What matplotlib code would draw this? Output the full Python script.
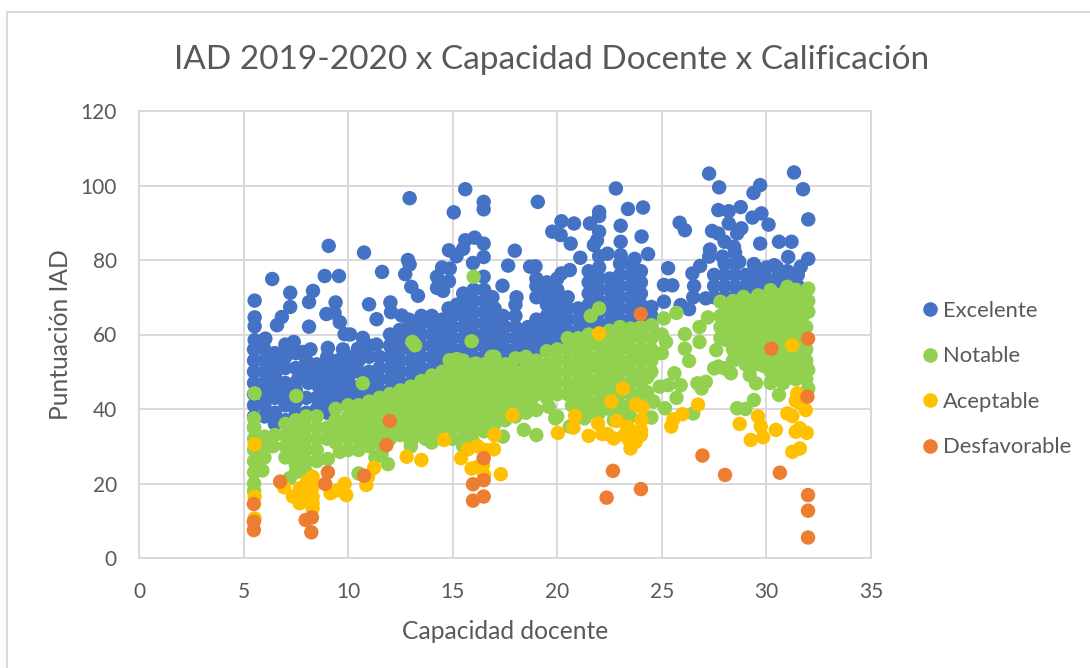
import matplotlib
matplotlib.use("Agg")
import matplotlib.pyplot as plt
from matplotlib.lines import Line2D

series_names = ["Excelente", "Notable", "Aceptable", "Desfavorable"]
series_colors = ["#4472C4", "#92D050", "#FFC000", "#ED7D31"]

# (capacidad, puntuacion), outliers first then the dense part
excelente = [
    (5.53, 69.1), (5.53, 64.6), (5.53, 62.2), (6.37, 74.9), (7.23, 71.2), (7.23, 67.4), (8.13, 68.7), (8.32, 71.7),
    (6.6, 62.5), (6.83, 64.7), (8.13, 62.1), (8.88, 75.7), (9.56, 75.7), (9.07, 83.8), (9.4, 68.6), (8.96, 65.5),
    (9.35, 65.8), (9.6, 63.3), (9.83, 60.1), (10.1, 60.0), (10.76, 82.0), (11.62, 76.8), (11.0, 68.1), (11.36, 64.1),
    (12.02, 68.6), (12.05, 66.0), (12.56, 65.1), (12.46, 61.2), (6.04, 58.9), (5.53, 58.5), (7.0, 57.3), (7.4, 58.0),
    (8.2, 56.0), (7.84, 55.3), (9.03, 56.4), (9.75, 56.0), (10.7, 59.1), (11.35, 57.3), (10.47, 56.2), (12.94, 96.6),
    (15.6, 99.0), (16.48, 95.6), (16.48, 93.6), (15.05, 92.8), (15.6, 85.3), (16.05, 86.0), (16.48, 84.4),
    (14.82, 82.6), (15.5, 83.0), (15.18, 81.0), (16.48, 80.8), (15.97, 79.2), (17.97, 82.5), (17.65, 78.5),
    (12.86, 80.0), (12.94, 78.8), (12.73, 76.2), (14.49, 78.0), (14.86, 77.7), (14.25, 75.5), (14.82, 74.3),
    (14.25, 72.5), (14.54, 71.7), (13.02, 72.8), (13.34, 70.4), (16.48, 75.5), (17.38, 73.1), (18.05, 70.0),
    (18.7, 78.2), (19.07, 95.6), (20.2, 90.4), (20.8, 89.8), (19.76, 87.6), (20.16, 86.7), (20.64, 84.4),
    (22.8, 99.2), (23.38, 93.7), (24.1, 94.1), (22.0, 92.9), (22.0, 91.8), (21.56, 89.8), (23.03, 89.2),
    (22.0, 87.6), (24.03, 86.3), (23.03, 84.9), (21.9, 85.3), (21.75, 84.0), (24.34, 81.6), (23.7, 80.3),
    (21.1, 80.6), (22.4, 81.7), (23.03, 81.3), (25.3, 77.8), (25.1, 73.3), (25.5, 73.2), (18.96, 78.3),
    (20.6, 77.3), (20.2, 76.4), (27.26, 103.2), (31.32, 103.5), (27.74, 99.5), (29.7, 100.1), (29.38, 98.0),
    (31.75, 99.0), (27.7, 93.4), (28.2, 93.1), (28.77, 94.2), (29.33, 91.4), (29.76, 92.5), (30.1, 89.5),
    (32.0, 90.9), (25.85, 90.0), (26.1, 88.0), (27.4, 87.8), (27.7, 87.1), (28.2, 89.8), (28.8, 88.5),
    (28.6, 87.1), (28.0, 84.9), (29.7, 84.4), (30.6, 84.9), (31.2, 84.9), (28.45, 83.5), (27.3, 82.8),
    (31.04, 80.8), (32.0, 80.3), (27.26, 80.9), (27.9, 80.9), (28.7, 79.5), (26.83, 78.4), (26.46, 76.4),
    (26.54, 73.0), (29.4, 78.9), (30.37, 78.6), (31.64, 78.2), (31.16, 76.4), (24.5, 67.4), (25.1, 68.8),
    (25.9, 67.9), (26.3, 66.8), (26.5, 70.0), (27.1, 69.7),
    (5.5, 35), (5.5, 38), (5.5, 41), (5.5, 44), (5.5, 47), (5.5, 50), (5.5, 53), (5.5, 56),
    (6.0, 38), (6.0, 41), (6.0, 44), (6.0, 47), (6.0, 50), (6.0, 53), (6.0, 56),
    (6.5, 36), (6.5, 39), (6.5, 43), (6.5, 46), (6.5, 49), (6.5, 52), (6.5, 55),
    (7.0, 37), (7.0, 41), (7.0, 44), (7.0, 47), (7.0, 51), (7.0, 54),
    (7.5, 39), (7.5, 42), (7.5, 45), (7.6, 48), (7.5, 51), (7.5, 55),
    (8.0, 39), (8.0, 43), (8.1, 47), (8.0, 50), (8.0, 53),
    (8.5, 40), (8.5, 43), (8.6, 46), (8.5, 49), (8.5, 52),
    (9.0, 39), (9.0, 42), (9.0, 45), (9.0, 48), (9.0, 51), (9.0, 54),
    (9.5, 41), (9.5, 44), (9.5, 47), (9.5, 50), (9.5, 53),
    (10.0, 42), (10.0, 45), (10.0, 48), (10.0, 51), (10.0, 54),
    (10.5, 43), (10.5, 46), (10.5, 50), (10.5, 53),
    (11.0, 44), (11.0, 47), (11.0, 50), (11.0, 54), (11.0, 57),
    (11.5, 45), (11.5, 48), (11.5, 51), (11.5, 54),
    (12.0, 45), (12.0, 48), (12.0, 51), (12.0, 54), (12.0, 57), (12.0, 60),
    (12.5, 47), (12.5, 50), (12.5, 53), (12.5, 56), (12.5, 59), (12.9, 64),
    (13.0, 47), (13.0, 50), (13.0, 53), (13.0, 56), (13.0, 59), (13.0, 62),
    (13.5, 48), (13.5, 51), (13.5, 54), (13.5, 57), (13.5, 60), (13.5, 63), (13.5, 65),
    (14.0, 48), (14.0, 51), (14.0, 54), (14.0, 57), (14.0, 60), (14.0, 63), (14.0, 65),
    (14.5, 49), (14.5, 52), (14.5, 55), (14.5, 58), (14.5, 61), (14.5, 64), (14.8, 67),
    (15.0, 50), (15.0, 53), (15.0, 56), (15.0, 59), (15.0, 62), (15.0, 65), (15.2, 68),
    (15.5, 50), (15.5, 53), (15.5, 56), (15.5, 59), (15.5, 62), (15.5, 65), (15.5, 68), (15.5, 71),
    (16.0, 51), (16.0, 54), (16.0, 57), (16.0, 60), (16.0, 63), (16.0, 66), (16.0, 69), (16.0, 72),
    (16.5, 51), (16.5, 54), (16.5, 57), (16.5, 60), (16.5, 63), (16.5, 66), (16.5, 69), (16.5, 72),
    (17.0, 52), (17.0, 55), (17.0, 58), (17.0, 61), (17.0, 64), (17.0, 67), (16.9, 70),
    (17.5, 53), (17.5, 56), (17.5, 59), (17.5, 62), (17.4, 65),
    (18.0, 53), (18.0, 56), (18.0, 59), (18.0, 62), (18.0, 65), (18.0, 68),
    (18.5, 54), (18.5, 57), (18.5, 60), (18.6, 62),
    (19.0, 55), (19.0, 58), (19.0, 61), (19.0, 64), (19.0, 70), (19.0, 73), (19.0, 75),
    (19.5, 56), (19.5, 59), (19.5, 62), (19.5, 65), (19.5, 68), (19.5, 71), (19.5, 74),
    (20.0, 57), (20.0, 60), (20.0, 63), (20.0, 66), (20.0, 69), (20.0, 72), (20.0, 75),
    (20.5, 58), (20.5, 61), (20.5, 64), (20.5, 67), (20.5, 70),
    (21.0, 58), (21.0, 61), (21.0, 64), (21.0, 67),
    (21.5, 59), (21.5, 62), (21.5, 65), (21.5, 68), (21.5, 71), (21.5, 74), (21.5, 77),
    (22.0, 60), (22.0, 63), (22.0, 66), (22.0, 69), (22.0, 72), (22.0, 75), (22.0, 78), (22.0, 81),
    (22.5, 60), (22.5, 63), (22.5, 66), (22.5, 69), (22.5, 72), (22.5, 75),
    (23.0, 61), (23.0, 64), (23.0, 67), (23.0, 70), (23.0, 73), (23.0, 76), (23.0, 79),
    (23.5, 61), (23.5, 64), (23.5, 67), (23.5, 70), (23.5, 73), (23.5, 76), (23.5, 79),
    (24.0, 62), (24.0, 65), (24.0, 68), (24.0, 71), (24.0, 74), (24.0, 77),
    (24.5, 62), (24.5, 65),
    (27.5, 70), (27.5, 73), (27.5, 76), (28.0, 70), (28.0, 73), (28.0, 76), (28.0, 79),
    (28.5, 70), (28.5, 73), (28.5, 76), (28.5, 79), (28.5, 82), (29.0, 70), (29.0, 73), (29.0, 76),
    (29.5, 71), (29.5, 74), (29.5, 77), (30.0, 72), (30.0, 75), (30.0, 78), (30.5, 72), (30.5, 75), (30.5, 78),
    (31.0, 72), (31.0, 75), (31.0, 77), (31.5, 73), (31.5, 76),
]

notable = [
    (5.53, 44.2), (7.52, 43.5), (10.7, 46.9), (13.07, 58.0), (13.2, 57.1), (15.9, 58.2), (16.0, 75.5),
    (14.85, 53.1), (15.2, 53.4), (16.1, 52.2), (16.85, 54.0), (18.0, 53.6), (18.5, 54.0), (21.6, 65.0),
    (22.0, 67.0), (23.0, 62.0), (23.5, 61.6), (24.5, 62.5), (25.1, 64.3), (25.7, 65.8), (25.2, 58.0),
    (26.1, 60.1), (26.8, 62.0), (27.2, 64.6), (26.1, 56.2), (26.8, 58.0), (27.6, 55.8), (28.1, 58.5),
    (25.6, 49.6), (25.9, 46.4), (24.9, 46.0), (25.3, 46.4), (25.7, 43.0), (26.7, 46.9), (27.1, 47.3),
    (26.9, 45.5), (26.5, 38.8), (26.3, 52.9), (27.5, 50.9), (27.7, 51.4), (28.0, 50.9), (28.3, 49.6),
    (29.2, 49.1), (29.5, 46.9), (29.4, 42.4), (28.6, 40.2), (29.0, 40.0), (30.6, 43.8), (32.0, 45.5),
    (32.0, 50.5), (24.6, 42.0), (24.5, 37.7), (25.15, 40.2), (19.0, 33.0), (19.0, 39.7), (19.6, 40.6),
    (19.9, 37.5), (19.3, 50.5), (20.6, 35.3), (21.3, 37.5), (22.7, 37.0),
    (9.03, 26.6), (9.6, 28.5), (11.9, 25.2), (10.5, 22.7), (7.2, 21.4), (17.4, 32.6), (18.4, 34.4),
    (5.5, 37.5), (5.5, 35), (5.5, 32), (5.5, 29), (5.5, 26), (5.5, 23), (5.5, 20), (5.5, 18),
    (6.0, 32.6), (6.0, 30), (6.0, 27), (5.9, 23.5), (6.5, 33), (6.4, 30),
    (7.0, 36), (7.0, 33), (7.0, 30), (7.0, 27),
    (7.5, 37), (7.5, 34), (7.5, 31), (7.5, 28), (7.5, 25), (7.5, 23),
    (8.0, 38), (8.0, 35), (8.0, 32), (8.0, 29), (8.0, 26), (8.0, 23),
    (8.5, 38), (8.5, 35), (8.5, 32), (8.5, 29), (8.5, 26), (9.0, 35), (9.0, 32),
    (9.4, 40), (9.4, 37), (9.4, 34), (9.4, 31),
    (10.0, 41), (10.0, 38), (10.0, 35), (10.0, 32), (10.0, 29),
    (10.5, 41), (10.5, 38), (10.5, 35), (10.5, 32), (10.5, 29),
    (11.0, 42), (11.0, 39), (11.0, 36), (11.0, 33), (11.0, 30), (11.3, 27),
    (11.5, 43), (11.5, 40), (11.5, 37), (11.5, 34), (11.5, 31), (11.6, 28),
    (12.0, 44), (12.0, 41), (12.0, 38), (12.0, 35), (12.0, 32),
    (12.5, 45), (12.5, 42), (12.5, 39), (12.5, 36), (12.5, 33), (13.0, 30),
    (13.0, 46), (13.0, 43), (13.0, 40), (13.0, 37), (13.0, 34), (13.0, 31),
    (13.5, 47.5), (13.5, 44), (13.5, 41), (13.5, 38), (13.5, 35), (13.7, 32),
    (14.0, 49), (14.0, 46), (14.0, 43), (14.0, 40), (14.0, 37), (14.0, 34), (14.0, 31),
    (14.5, 50), (14.5, 47), (14.5, 44), (14.5, 41), (14.5, 38), (14.5, 35), (14.5, 32),
    (15.0, 53), (15.0, 50), (15.0, 47), (15.0, 44), (15.0, 41), (15.0, 38), (15.0, 35), (15.0, 32),
    (15.5, 53), (15.5, 50), (15.5, 47), (15.5, 44), (15.5, 41), (15.5, 38), (15.5, 35), (15.5, 32), (15.5, 30),
    (16.0, 52), (16.0, 49), (16.0, 46), (16.0, 43), (16.0, 40), (16.0, 37), (16.0, 34), (16.0, 31),
    (16.5, 52), (16.5, 49), (16.5, 46), (16.5, 43), (16.5, 40), (16.5, 37), (16.5, 34),
    (17.0, 54), (17.0, 51), (17.0, 48), (17.0, 45), (17.0, 42), (17.0, 39), (17.0, 36), (17.0, 33),
    (17.5, 52), (17.5, 49), (17.5, 46), (17.5, 43), (17.5, 40), (17.5, 37),
    (18.0, 50), (18.0, 47), (18.0, 44), (18.0, 41), (18.0, 38),
    (18.5, 51), (18.5, 48), (18.5, 45), (18.5, 42), (18.5, 39),
    (19.0, 53), (19.0, 47), (19.0, 44), (19.5, 55.5), (19.5, 52), (19.5, 49), (19.5, 46), (19.5, 43),
    (20.0, 56), (20.0, 53), (20.0, 50), (20.0, 47), (20.0, 44), (20.0, 38),
    (20.5, 59), (20.5, 56), (20.5, 53), (20.5, 50), (20.5, 47), (20.5, 44), (20.7, 41),
    (21.0, 59), (21.0, 56), (21.0, 53), (21.0, 50), (21.0, 47), (21.0, 44), (21.0, 41), (21.0, 38),
    (21.5, 60), (21.5, 57), (21.5, 54), (21.5, 51), (21.5, 48), (21.5, 45), (21.5, 42), (21.5, 39),
    (22.0, 60), (22.0, 57), (22.0, 54), (22.0, 51), (22.0, 48), (22.0, 45), (22.0, 42), (22.0, 39),
    (22.5, 61), (22.5, 58), (22.5, 55), (22.5, 52), (22.5, 49), (22.5, 46), (22.5, 43), (22.5, 40),
    (23.0, 59), (23.0, 56), (23.0, 53), (23.0, 50), (23.0, 47), (23.0, 44), (23.0, 41), (23.0, 38),
    (23.5, 59), (23.5, 56), (23.5, 53), (23.5, 50), (23.5, 47), (23.5, 44), (23.5, 41), (23.5, 38),
    (24.0, 62), (24.0, 59), (24.0, 56), (24.0, 53), (24.0, 50), (24.0, 47), (24.0, 44), (24.0, 41),
    (24.5, 59), (24.5, 56), (24.5, 53), (24.5, 50), (25.0, 60), (25.0, 55),
    (20.8, 57.5), (20.8, 51.5), (20.8, 45.5), (21.3, 54.5), (21.3, 48.5), (21.3, 42.5), (21.8, 58.5), (21.8, 52.5),
    (21.8, 46.5), (21.8, 40.5), (22.3, 55.5), (22.3, 49.5), (22.3, 43.5), (22.8, 59.5), (22.8, 53.5), (22.8, 47.5),
    (22.8, 41.5), (23.3, 57.5), (23.3, 51.5), (23.3, 45.5), (23.3, 39.5), (23.8, 60.5), (23.8, 54.5), (23.8, 48.5),
    (23.8, 42.5), (24.3, 60.5), (24.3, 54.5), (24.3, 48.5), (24.3, 44.5),
    (9.7, 36), (9.7, 33), (10.3, 39.5), (10.3, 36.5), (10.3, 33.5), (10.8, 37.5), (10.8, 34.5), (11.3, 38), (11.3, 35),
    (11.3, 32), (11.8, 41), (11.8, 38), (11.8, 35), (12.3, 39.5), (12.3, 36.5), (12.3, 33.5), (12.8, 43.5), (12.8, 40.5),
    (12.8, 37.5), (13.3, 42), (13.3, 39), (13.3, 36), (13.3, 33), (13.8, 45), (13.8, 42), (13.8, 39), (13.8, 36),
    (14.3, 47.5), (14.3, 44.5), (14.3, 41.5), (14.3, 38.5), (14.3, 35.5), (14.8, 48.5), (14.8, 45.5), (14.8, 42.5),
    (14.8, 39.5), (14.8, 36.5), (15.3, 51.5), (15.3, 48.5), (15.3, 45.5), (15.3, 42.5), (15.3, 39.5), (15.3, 36.5),
    (15.8, 50.5), (15.8, 47.5), (15.8, 44.5), (15.8, 41.5), (15.8, 38.5), (15.8, 35.5), (16.3, 50.5), (16.3, 47.5),
    (16.3, 44.5), (16.3, 41.5), (16.3, 38.5), (16.3, 35.5), (16.8, 50.5), (16.8, 47.5), (16.8, 44.5), (16.8, 41.5),
    (16.8, 38.5), (17.3, 49.5), (17.3, 46.5), (17.3, 43.5), (17.3, 40.5), (17.8, 51), (17.8, 48), (17.8, 45), (17.8, 42),
    (18.3, 49.5), (18.3, 46.5), (18.3, 43.5), (18.8, 52), (18.8, 49), (18.8, 46), (18.8, 43), (19.8, 50), (19.8, 47),
    (27.8, 68.8), (27.8, 65), (27.8, 62), (27.8, 59), (28.9, 70.1), (28.4, 69),
    (28.4, 66), (28.4, 63), (28.4, 60), (28.4, 56), (28.4, 53),
    (29.0, 67), (29.0, 64), (29.0, 61), (29.0, 58), (29.0, 55), (29.0, 52),
    (29.6, 70.5), (29.6, 67), (29.6, 64), (29.6, 61), (29.6, 58), (29.6, 55), (29.6, 52),
    (30.2, 71.9), (30.2, 68), (30.2, 65), (30.2, 62), (30.2, 59), (30.2, 56), (30.2, 53), (30.2, 50), (30.2, 47),
    (30.8, 71), (30.8, 68), (30.8, 65), (30.8, 62), (30.8, 59), (30.8, 56), (30.8, 53), (30.8, 50), (30.8, 47),
    (31.0, 72.8), (31.4, 72), (31.4, 69), (31.4, 66), (31.4, 63), (31.4, 60), (31.4, 57), (31.4, 54), (31.4, 51), (31.4, 48),
    (32.0, 72.3), (32.0, 69), (32.0, 66.1), (31.9, 62), (31.9, 59), (31.9, 56), (31.9, 53), (31.9, 48),
    (28.1, 67.5), (28.1, 64.5), (28.1, 61.5), (28.7, 68.5), (28.7, 65.5), (28.7, 62.5), (28.7, 59.5), (28.7, 56.5),
    (28.7, 53.5), (29.3, 69), (29.3, 65.5), (29.3, 62.5), (29.3, 59.5), (29.3, 56.5), (29.3, 53.5), (29.9, 69.5),
    (29.9, 66.5), (29.9, 63.5), (29.9, 60.5), (29.9, 57.5), (29.9, 54.5), (29.9, 51.5), (30.5, 70), (30.5, 66.5),
    (30.5, 63.5), (30.5, 60.5), (30.5, 57.5), (30.5, 54.5), (30.5, 51.5), (30.5, 48.5), (31.1, 70), (31.1, 66.5),
    (31.1, 63.5), (31.1, 60.5), (31.1, 57.5), (31.1, 54.5), (31.1, 51.5), (31.1, 48.5), (31.7, 70.5), (31.7, 67.5),
    (31.7, 64.5), (31.7, 61), (31.7, 58), (31.7, 55), (31.7, 52), (31.7, 49),
]

aceptable = [
    (5.53, 30.5), (5.53, 16.5), (5.53, 10.6), (6.93, 19.0), (8.03, 20.5), (7.68, 18.7), (7.36, 16.5), (7.68, 14.7),
    (8.16, 17.4), (8.3, 14.7), (8.3, 19.1), (8.3, 21.8), (8.3, 16.4), (8.3, 13.3), (7.92, 15.6), (9.16, 17.4),
    (9.5, 18.2), (9.83, 19.9), (9.91, 16.9), (10.87, 19.6), (10.95, 21.8), (11.24, 24.2), (12.8, 27.2), (13.5, 26.3),
    (14.59, 31.7), (15.4, 26.8), (15.73, 29.2), (16.2, 30.0), (16.6, 29.0), (16.97, 29.2), (17.0, 33.1), (17.85, 38.4),
    (15.9, 24.0), (16.2, 24.5), (16.5, 22.3), (16.45, 25.0), (17.3, 22.5), (20.03, 33.6), (20.85, 38.2), (20.77, 35.0),
    (21.5, 32.8), (21.95, 36.1), (22.15, 33.3), (22.4, 33.3), (22.7, 32.1), (23.14, 45.5), (22.58, 42.0), (22.84, 36.8),
    (23.75, 41.2), (24.07, 40.4), (24.03, 37.0), (24.0, 34.4), (23.5, 29.4), (23.75, 31.2), (23.67, 33.9), (23.35, 35.3),
    (23.2, 33.0), (24.0, 33.0), (23.43, 31.7), (25.45, 35.3), (25.55, 37.2), (25.98, 38.6), (26.73, 41.2), (28.72, 36.0),
    (29.25, 31.7), (29.6, 38.0), (29.73, 35.3), (29.84, 32.4), (30.45, 34.4), (31.48, 44.2), (31.4, 42.2), (31.64, 41.5),
    (31.88, 39.7), (31.0, 38.8), (31.24, 38.1), (31.4, 33.9), (31.6, 34.8), (31.93, 33.6), (31.24, 28.5), (31.6, 29.4),
    (31.23, 57.1), (22.0, 60.3),
]

desfavorable = [
    (5.49, 14.5), (5.49, 9.75), (5.49, 7.5), (6.75, 20.5), (8.27, 10.9), (7.97, 10.2), (8.24, 6.9), (9.03, 23.0),
    (8.9, 19.9), (10.76, 22.1), (11.99, 36.8), (11.83, 30.3), (16.48, 26.8), (16.48, 20.9), (15.97, 19.8), (16.48, 16.5),
    (15.97, 15.4), (31.96, 43.3), (22.66, 23.4), (24.0, 18.5), (22.36, 16.2), (26.94, 27.5), (28.02, 22.3), (30.64, 22.9),
    (31.99, 16.9), (31.99, 12.7), (31.99, 5.5), (23.99, 65.5), (30.24, 56.2), (31.99, 58.9),
]

grey = "#595959"
line_grey = "#D9D9D9"
plt.rcParams["font.family"] = ["Lato", "DejaVu Sans"]

fig = plt.figure(figsize=(10.9, 6.68), dpi=100)
ax = fig.add_axes([139 / 1090, 110 / 668, 732 / 1090, 447 / 668])

for points, color in zip([excelente, notable, aceptable, desfavorable], series_colors):
    xs, ys = zip(*points)
    ax.scatter(xs, ys, s=108, color=color, edgecolors="none", zorder=3, clip_on=False)

ax.set_xlim(0, 35)
ax.set_ylim(0, 120)
ax.set_xticks(range(0, 36, 5))
ax.set_yticks(range(0, 121, 20))
ax.grid(True, color=line_grey, linewidth=1.4, zorder=0)
ax.set_axisbelow(True)
for side in ax.spines:
    ax.spines[side].set_color(line_grey)
    ax.spines[side].set_linewidth(1.4)
ax.tick_params(length=0, labelsize=15, labelcolor=grey)
ax.tick_params(axis="x", pad=17)
ax.tick_params(axis="y", pad=16)
ax.set_xlabel("Capacidad docente", fontsize=17.7, color=grey, labelpad=13)
ax.set_ylabel("Puntuación IAD", fontsize=17.7, color=grey, labelpad=6)

fig.text(552 / 1090, 1 - 60 / 668, "IAD 2019-2020 x Capacidad Docente x Calificación",
         fontsize=24, color=grey, ha="center", va="center")

handles = [Line2D([], [], linestyle="", marker="o", markersize=10.5, color=c, markeredgewidth=0) for c in series_colors]
fig.legend(handles, series_names, loc="center left", bbox_to_anchor=(919 / 1090, 1 - 379 / 668),
           frameon=False, fontsize=15.8, labelcolor=grey, labelspacing=1.16, handletextpad=0.08, handlelength=1.0,
           borderpad=0, borderaxespad=0)

# chart area border, only top and left show in the picture
fig.add_artist(Line2D([7 / 1090, 7 / 1090, 1], [0, 1 - 12 / 668, 1 - 12 / 668],
                      color=line_grey, linewidth=1.4))

fig.savefig("out.png", dpi=100)
